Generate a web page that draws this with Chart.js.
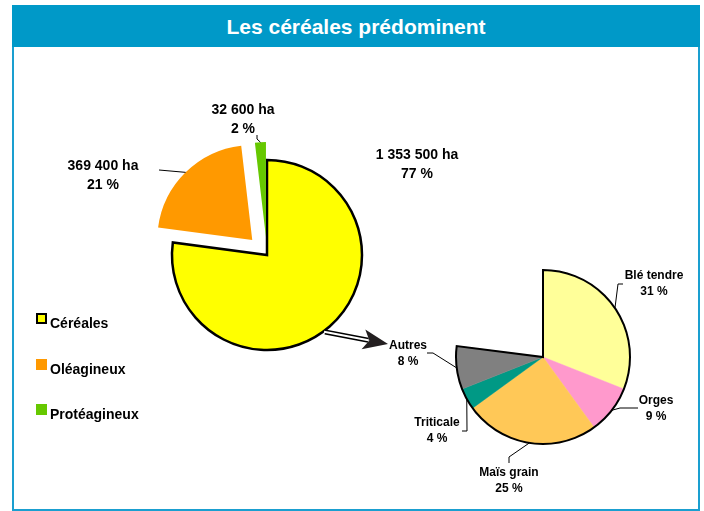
<!DOCTYPE html>
<html>
<head>
<meta charset="utf-8">
<script src="https://cdn.jsdelivr.net/npm/chart.js@4.4.1/dist/chart.umd.min.js"></script>
<style>
  html, body { margin: 0; padding: 0; width: 704px; height: 511px; overflow: hidden; background: #fff; font-family: "Liberation Sans", Arial, sans-serif; }
  #title { position: absolute; left: 12px; top: 5px; width: 688px; height: 42px; background: #0099c8; color: #fff; font-weight: bold; font-size: 21px; line-height: 44px; text-align: center; }
  #frame { position: absolute; left: 12px; top: 47px; width: 684px; height: 462px; border: 2px solid #1a9fd0; border-top: none; }
  canvas { position: absolute; left: 0; top: 0; }
  .sw { position: absolute; left: 36px; width: 11px; height: 11px; box-sizing: border-box; }
  .lt { position: absolute; left: 50px; font-weight: bold; font-size: 14px; line-height: 14px; color: #000; }
</style>
</head>
<body>
<div id="title">Les céréales prédominent</div>
<div id="frame"></div>
<canvas id="main" width="704" height="511"></canvas>
<canvas id="cereals" width="704" height="511"></canvas>
<div id="legend"></div>
<script>
// surfaces (ha) par grande famille
const mainLabels = ["Céréales", "Oléagineux", "Protéagineux"];
const mainHectares = [1353500, 369400, 32600];
const mainPercents = [77, 21, 2];
const mainColors = ["#ffff00", "#ff9900", "#66c800"];

// répartition des céréales (en % de la surface totale)
const cerealLabels = ["Blé tendre", "Orges", "Maïs grain", "Triticale", "Autres"];
const cerealPercents = [31, 9, 25, 4, 8];
const cerealColors = ["#ffff99", "#ff99cc", "#ffc857", "#009985", "#808080"];

const fmt = (n) => String(n).replace(/\B(?=(\d{3})+(?!\d))/g, " ");

// label placement (text centre + leader elbows)
const mainLabelPos = [
  { x: 417, y: 155, pts: [] },
  { x: 103, y: 166, pts: [[159, 170]] },
  { x: 243, y: 110, pts: [[257, 139], [257, 135]] },
];
const cerealLabelPos = [
  { x: 654, y: 276, pts: [[618, 284], [623, 284]] },
  { x: 656, y: 401, pts: [[620, 408], [638, 408]] },
  { x: 509, y: 473, pts: [[509, 457], [509, 463]] },
  { x: 437, y: 423, pts: [[467, 431], [462, 431]] },
  { x: 408, y: 346, pts: [[433, 353], [427, 353]] },
];

// Chart.js moves an arc by offset / 4 px along its bisector
function anchorOf(chart, arc) {
  const mid = (arc.startAngle + arc.endAngle) / 2;
  const off = (arc.options.offset || 0) / 4;
  const r = chart.getDatasetMeta(0).controller.outerRadius;
  return [arc.x + Math.cos(mid) * (off + r), arc.y + Math.sin(mid) * (off + r)];
}

function drawLabels(chart, pos, lines, fontSize, lh) {
  const ctx = chart.ctx;
  const arcs = chart.getDatasetMeta(0).data;
  ctx.save();
  ctx.strokeStyle = "#000";
  ctx.lineWidth = 1;
  arcs.forEach((arc, i) => {
    const p = pos[i];
    if (p.pts.length) {
      const a = anchorOf(chart, arc);
      ctx.beginPath();
      ctx.moveTo(a[0], a[1]);
      p.pts.forEach((q) => ctx.lineTo(q[0], q[1]));
      ctx.stroke();
    }
    ctx.fillStyle = "#000";
    ctx.font = "bold " + fontSize + "px 'Liberation Sans', Arial, sans-serif";
    ctx.textAlign = "center";
    ctx.textBaseline = "middle";
    lines[i].forEach((t, k) => ctx.fillText(t, p.x, p.y + k * lh));
  });
  ctx.restore();
}

const mainDecor = {
  id: "mainDecor",
  // keep exploded thin slices at the true radius/angle (Chart.js grows & narrows them)
  beforeDatasetsDraw(chart) {
    chart.getDatasetMeta(0).data.forEach((arc) => {
      const o = (arc.options.offset || 0) / 4;
      if (!o) return;
      const ro = o * (1 - Math.sin(Math.min(Math.PI, arc.circumference)));
      const R = arc.outerRadius;
      const extra = ro / (Math.PI * R) / 2;
      arc.outerRadius = R - ro;
      arc.startAngle -= extra;
      arc.endAngle += extra;
    });
  },
  afterDraw(chart) {
    drawLabels(chart, mainLabelPos, mainHectares.map((h, i) => [fmt(h) + " ha", mainPercents[i] + " %"]), 14, 19);
    // arrow to the cereal breakdown
    const ctx = chart.ctx;
    const s = [325, 332], t = [388, 344];
    const dx = t[0] - s[0], dy = t[1] - s[1], L = Math.hypot(dx, dy);
    const ux = dx / L, uy = dy / L, nx = -uy, ny = ux;
    const base = [t[0] - 20 * ux, t[1] - 20 * uy];
    ctx.save();
    ctx.lineCap = "butt";
    ctx.strokeStyle = "#000";
    ctx.lineWidth = 5;
    ctx.beginPath(); ctx.moveTo(s[0], s[1]); ctx.lineTo(base[0], base[1]); ctx.stroke();
    ctx.strokeStyle = "#fff";
    ctx.lineWidth = 2;
    ctx.beginPath(); ctx.moveTo(s[0] - ux, s[1] - uy); ctx.lineTo(base[0], base[1]); ctx.stroke();
    ctx.fillStyle = "#231f20";
    ctx.beginPath();
    ctx.moveTo(t[0], t[1]);
    ctx.lineTo(t[0] - 25 * ux + 10 * nx, t[1] - 25 * uy + 10 * ny);
    ctx.lineTo(t[0] - 19 * ux, t[1] - 19 * uy);
    ctx.lineTo(t[0] - 25 * ux - 10 * nx, t[1] - 25 * uy - 10 * ny);
    ctx.closePath();
    ctx.fill();
    ctx.restore();
  },
};

const cerealDecor = {
  id: "cerealDecor",
  afterDatasetsDraw(chart) {
    const arcs = chart.getDatasetMeta(0).data;
    const first = arcs[0], last = arcs[arcs.length - 1];
    const ctx = chart.ctx;
    ctx.save();
    ctx.strokeStyle = "#000";
    ctx.lineWidth = 2;
    ctx.lineJoin = "miter";
    ctx.beginPath();
    ctx.moveTo(first.x, first.y);
    ctx.arc(first.x, first.y, first.outerRadius, first.startAngle, last.endAngle);
    ctx.closePath();
    ctx.stroke();
    ctx.restore();
  },
  afterDraw(chart) {
    drawLabels(chart, cerealLabelPos, cerealLabels.map((l, i) => [l, cerealPercents[i] + " %"]), 12, 16);
  },
};

const common = {
  responsive: false,
  animation: false,
  events: [],
  plugins: { legend: { display: false }, tooltip: { enabled: false } },
};

new Chart(document.getElementById("main"), {
  type: "pie",
  data: {
    labels: mainLabels,
    datasets: [{
      data: mainHectares,
      backgroundColor: mainColors,
      borderColor: ["#000", "#ff9900", "#66c800"],
      borderWidth: [2.5, 0, 0],
      borderJoinStyle: "miter",
      offset: [0, 84, 72],
      hoverOffset: 0,
      radius: 95,
    }],
  },
  options: Object.assign({}, common, { layout: { padding: { left: 0, right: 170, top: 0, bottom: 1 } } }),
  plugins: [mainDecor],
});

new Chart(document.getElementById("cereals"), {
  type: "pie",
  data: {
    labels: cerealLabels,
    datasets: [{
      data: cerealPercents,
      backgroundColor: cerealColors,
      borderColor: cerealColors,
      borderWidth: 0.5,
      hoverOffset: 0,
      radius: 87,
    }],
  },
  options: Object.assign({}, common, {
    circumference: 360 * mainPercents[0] / 100,
    layout: { padding: { left: 382, right: 0, top: 203, bottom: 0 } },
  }),
  plugins: [cerealDecor],
});

// legend
const legend = document.getElementById("legend");
mainLabels.forEach((l, i) => {
  const top = 313 + i * 45.5;
  const sw = document.createElement("div");
  sw.className = "sw";
  sw.style.top = top + "px";
  sw.style.background = mainColors[i];
  if (i === 0) sw.style.border = "2px solid #000";
  const tx = document.createElement("div");
  tx.className = "lt";
  tx.style.top = (top + 3) + "px";
  tx.textContent = l;
  legend.appendChild(sw);
  legend.appendChild(tx);
});
</script>
</body>
</html>
